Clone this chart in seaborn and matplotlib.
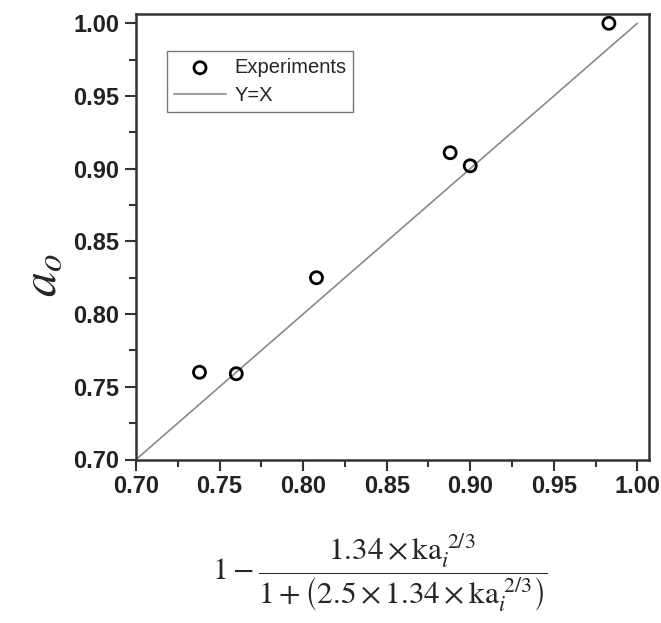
import matplotlib
matplotlib.use("Agg")
import matplotlib.pyplot as plt
import seaborn as sns
import pandas as pd
from matplotlib.ticker import MultipleLocator

# Data
x_exp = [0.738, 0.760, 0.808, 0.888, 0.900, 0.983]
y_exp = [0.760, 0.759, 0.825, 0.911, 0.902, 1.000]
line_x = [0.70, 1.00]
line_y = [0.70, 1.00]
x_ticks = [0.70, 0.75, 0.80, 0.85, 0.90, 0.95, 1.00]
y_ticks = [0.70, 0.75, 0.80, 0.85, 0.90, 0.95, 1.00]

sns.set_style("ticks")
plt.rcParams['font.family'] = ['Liberation Sans', 'DejaVu Sans']
plt.rcParams['mathtext.fontset'] = 'stix'

fig = plt.figure(figsize=(6.61, 6.23), dpi=100)
ax = fig.add_axes([136/661, 1-459.5/623, 513/661, 445.5/623])

df_exp = pd.DataFrame({"x": x_exp, "y": y_exp})
df_line = pd.DataFrame({"x": line_x, "y": line_y})

sns.scatterplot(data=df_exp, x="x", y="y", ax=ax, marker="o", s=75,
                facecolor="none", edgecolor="black", linewidth=2.0,
                label="Experiments", zorder=3)
sns.lineplot(data=df_line, x="x", y="y", ax=ax, color="#8a8a8a", linewidth=1.2,
             label="Y=X", zorder=2)

ax.set_xlim(0.70, 1.007)
ax.set_ylim(0.70, 1.0064)
ax.set_xticks(x_ticks)
ax.set_yticks(y_ticks)
ax.set_xticklabels([f"{t:.2f}" for t in x_ticks])
ax.set_yticklabels([f"{t:.2f}" for t in y_ticks])
ax.xaxis.set_minor_locator(MultipleLocator(0.025))
ax.yaxis.set_minor_locator(MultipleLocator(0.025))
ax.tick_params(which="major", direction="out", length=8, width=1.5, color="#333333",
               labelsize=17, pad=3)
ax.tick_params(axis="y", which="major", pad=4)
ax.tick_params(which="minor", direction="out", length=5, width=1.5, color="#333333")
for lab in ax.get_xticklabels() + ax.get_yticklabels():
    lab.set_fontweight("bold")
    lab.set_color("#222222")
for sp in ax.spines.values():
    sp.set_visible(True)
    sp.set_linewidth(1.8)
    sp.set_color("#333333")

ax.set_xlabel("")
ax.set_ylabel("")
fig.text(42/661, 1-275/623, r"$a_o$", rotation=90, fontsize=36, ha="center", va="center")
fig.text(380/661, 1-573/623,
         r"$1-\dfrac{1.34\times \mathrm{ka}_{i}^{\ 2/3}}{1+\left(2.5\times 1.34\times \mathrm{ka}_{i}^{\ 2/3}\right)}$",
         fontsize=22.5, ha="center", va="center")

leg = ax.legend(loc="upper left", bbox_to_anchor=(0.06, 0.917), fontsize=14.5,
                frameon=True, fancybox=False, edgecolor="#777777", framealpha=1,
                borderpad=0.35, handlelength=2.6, handletextpad=0.4, labelspacing=0.45,
                borderaxespad=0)
leg.get_frame().set_linewidth(1.0)

fig.savefig("out.png", dpi=100, facecolor="white")
